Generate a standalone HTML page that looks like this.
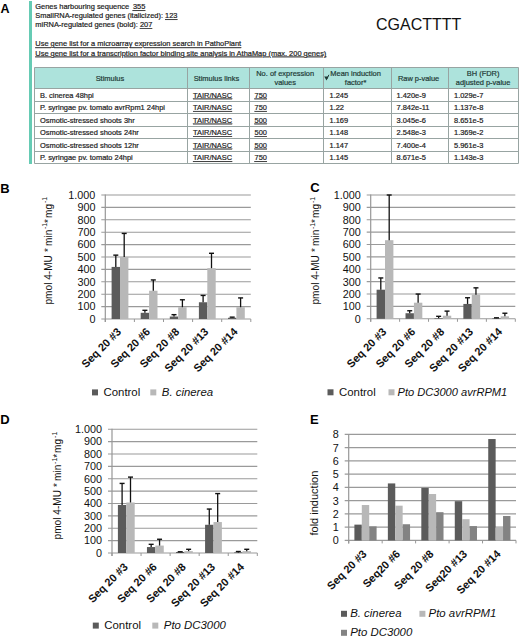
<!DOCTYPE html>
<html><head><meta charset="utf-8"><style>
html,body{margin:0;padding:0;background:#fff;}
body{width:520px;height:639px;overflow:hidden;}
svg{display:block;font-family:"Liberation Sans", sans-serif;}
</style></head><body>
<svg width="520" height="639" viewBox="0 0 520 639">
<text x="0.60" y="13.30" font-size="12.5" text-anchor="start" font-weight="bold" font-style="normal" fill="#000" >A</text>
<rect x="29.00" y="1.00" width="3.00" height="163.00" fill="#66cbb4" />
<text x="35.30" y="9.20" font-size="7.45" text-anchor="start" font-weight="normal" font-style="normal" fill="#222"  stroke="#222" stroke-width="0.2">Genes harbouring sequence <tspan x="132.9" text-decoration="underline">355</tspan></text>
<text x="35.30" y="18.20" font-size="7.45" text-anchor="start" font-weight="normal" font-style="normal" fill="#222"  stroke="#222" stroke-width="0.2">SmallRNA-regulated genes (italicized): <tspan text-decoration="underline">123</tspan></text>
<text x="35.30" y="27.10" font-size="7.45" text-anchor="start" font-weight="normal" font-style="normal" fill="#222"  stroke="#222" stroke-width="0.2">miRNA-regulated genes (bold): <tspan text-decoration="underline">207</tspan></text>
<text x="35.30" y="46.30" font-size="7.45" text-anchor="start" font-weight="normal" font-style="normal" fill="#222" text-decoration="underline" stroke="#222" stroke-width="0.2">Use gene list for a microarray expression search in PathoPlant</text>
<text x="35.30" y="55.50" font-size="7.45" text-anchor="start" font-weight="normal" font-style="normal" fill="#222" text-decoration="underline" stroke="#222" stroke-width="0.2">Use gene list for a transcription factor binding site analysis in AthaMap (max. 200 genes)</text>
<text x="376.00" y="29.60" font-size="16" text-anchor="start" font-weight="normal" font-style="normal" fill="#111" >CGACTTTT</text>
<rect x="34.50" y="67.50" width="484.00" height="21.00" fill="#ade3dc" />
<line x1="34.50" y1="67.50" x2="518.50" y2="67.50" stroke="#98a4a2" stroke-width="1"/>
<line x1="34.50" y1="88.50" x2="518.50" y2="88.50" stroke="#98a4a2" stroke-width="1"/>
<line x1="34.50" y1="101.50" x2="518.50" y2="101.50" stroke="#98a4a2" stroke-width="1"/>
<line x1="34.50" y1="113.50" x2="518.50" y2="113.50" stroke="#98a4a2" stroke-width="1"/>
<line x1="34.50" y1="126.50" x2="518.50" y2="126.50" stroke="#98a4a2" stroke-width="1"/>
<line x1="34.50" y1="138.50" x2="518.50" y2="138.50" stroke="#98a4a2" stroke-width="1"/>
<line x1="34.50" y1="151.50" x2="518.50" y2="151.50" stroke="#98a4a2" stroke-width="1"/>
<line x1="34.50" y1="163.50" x2="518.50" y2="163.50" stroke="#98a4a2" stroke-width="1"/>
<line x1="34.50" y1="67.50" x2="34.50" y2="163.50" stroke="#98a4a2" stroke-width="1"/>
<line x1="187.50" y1="67.50" x2="187.50" y2="163.50" stroke="#98a4a2" stroke-width="1"/>
<line x1="249.50" y1="67.50" x2="249.50" y2="163.50" stroke="#98a4a2" stroke-width="1"/>
<line x1="323.50" y1="67.50" x2="323.50" y2="163.50" stroke="#98a4a2" stroke-width="1"/>
<line x1="391.50" y1="67.50" x2="391.50" y2="163.50" stroke="#98a4a2" stroke-width="1"/>
<line x1="448.50" y1="67.50" x2="448.50" y2="163.50" stroke="#98a4a2" stroke-width="1"/>
<line x1="518.50" y1="67.50" x2="518.50" y2="163.50" stroke="#98a4a2" stroke-width="1"/>
<text x="109.90" y="80.80" font-size="7.45" text-anchor="middle" font-weight="normal" font-style="normal" fill="#1e3a36"  stroke="#1e3a36" stroke-width="0.2">Stimulus</text>
<text x="216.40" y="80.80" font-size="7.45" text-anchor="middle" font-weight="normal" font-style="normal" fill="#1e3a36"  stroke="#1e3a36" stroke-width="0.2">Stimulus links</text>
<text x="285.20" y="76.30" font-size="7.45" text-anchor="middle" font-weight="normal" font-style="normal" fill="#1e3a36"  stroke="#1e3a36" stroke-width="0.2">No. of expression</text>
<text x="285.20" y="85.20" font-size="7.45" text-anchor="middle" font-weight="normal" font-style="normal" fill="#1e3a36"  stroke="#1e3a36" stroke-width="0.2">values</text>
<text x="355.60" y="76.30" font-size="7.45" text-anchor="middle" font-weight="normal" font-style="normal" fill="#1e3a36"  stroke="#1e3a36" stroke-width="0.2">Mean induction</text>
<text x="355.60" y="85.20" font-size="7.45" text-anchor="middle" font-weight="normal" font-style="normal" fill="#1e3a36"  stroke="#1e3a36" stroke-width="0.2">factor*</text>
<path d="M324.2 76.6 L328.6 76.6 L326.5 80.6 Z" fill="#1e3a36"/><path d="M326.8 79 L328.9 74.8" stroke="#1e3a36" stroke-width="1"/>
<text x="418.60" y="80.80" font-size="7.45" text-anchor="middle" font-weight="normal" font-style="normal" fill="#1e3a36"  stroke="#1e3a36" stroke-width="0.2">Raw p-value</text>
<text x="483.10" y="76.30" font-size="7.45" text-anchor="middle" font-weight="normal" font-style="normal" fill="#1e3a36"  stroke="#1e3a36" stroke-width="0.2">BH (FDR)</text>
<text x="483.10" y="85.20" font-size="7.45" text-anchor="middle" font-weight="normal" font-style="normal" fill="#1e3a36"  stroke="#1e3a36" stroke-width="0.2">adjusted p-value</text>
<text x="40.00" y="97.50" font-size="7.45" text-anchor="start" font-weight="normal" font-style="normal" fill="#222"  stroke="#222" stroke-width="0.2">B. cinerea 48hpi</text>
<text x="193.00" y="97.50" font-size="7.45" text-anchor="start" font-weight="normal" font-style="normal" fill="#222" text-decoration="underline" stroke="#222" stroke-width="0.2">TAIR/NASC</text>
<text x="254.50" y="97.50" font-size="7.45" text-anchor="start" font-weight="normal" font-style="normal" fill="#222" text-decoration="underline" stroke="#222" stroke-width="0.2">750</text>
<text x="329.50" y="97.50" font-size="7.45" text-anchor="start" font-weight="normal" font-style="normal" fill="#222"  stroke="#222" stroke-width="0.2">1.245</text>
<text x="396.50" y="97.50" font-size="7.45" text-anchor="start" font-weight="normal" font-style="normal" fill="#222"  stroke="#222" stroke-width="0.2">1.420e-9</text>
<text x="454.00" y="97.50" font-size="7.45" text-anchor="start" font-weight="normal" font-style="normal" fill="#222"  stroke="#222" stroke-width="0.2">1.029e-7</text>
<text x="40.00" y="110.04" font-size="7.45" text-anchor="start" font-weight="normal" font-style="normal" fill="#222"  stroke="#222" stroke-width="0.2">P. syringae pv. tomato avrRpm1 24hpi</text>
<text x="193.00" y="110.04" font-size="7.45" text-anchor="start" font-weight="normal" font-style="normal" fill="#222" text-decoration="underline" stroke="#222" stroke-width="0.2">TAIR/NASC</text>
<text x="254.50" y="110.04" font-size="7.45" text-anchor="start" font-weight="normal" font-style="normal" fill="#222" text-decoration="underline" stroke="#222" stroke-width="0.2">750</text>
<text x="329.50" y="110.04" font-size="7.45" text-anchor="start" font-weight="normal" font-style="normal" fill="#222"  stroke="#222" stroke-width="0.2">1.22</text>
<text x="396.50" y="110.04" font-size="7.45" text-anchor="start" font-weight="normal" font-style="normal" fill="#222"  stroke="#222" stroke-width="0.2">7.842e-11</text>
<text x="454.00" y="110.04" font-size="7.45" text-anchor="start" font-weight="normal" font-style="normal" fill="#222"  stroke="#222" stroke-width="0.2">1.137e-8</text>
<text x="40.00" y="122.58" font-size="7.45" text-anchor="start" font-weight="normal" font-style="normal" fill="#222"  stroke="#222" stroke-width="0.2">Osmotic-stressed shoots 3hr</text>
<text x="193.00" y="122.58" font-size="7.45" text-anchor="start" font-weight="normal" font-style="normal" fill="#222" text-decoration="underline" stroke="#222" stroke-width="0.2">TAIR/NASC</text>
<text x="254.50" y="122.58" font-size="7.45" text-anchor="start" font-weight="normal" font-style="normal" fill="#222" text-decoration="underline" stroke="#222" stroke-width="0.2">500</text>
<text x="329.50" y="122.58" font-size="7.45" text-anchor="start" font-weight="normal" font-style="normal" fill="#222"  stroke="#222" stroke-width="0.2">1.169</text>
<text x="396.50" y="122.58" font-size="7.45" text-anchor="start" font-weight="normal" font-style="normal" fill="#222"  stroke="#222" stroke-width="0.2">3.045e-6</text>
<text x="454.00" y="122.58" font-size="7.45" text-anchor="start" font-weight="normal" font-style="normal" fill="#222"  stroke="#222" stroke-width="0.2">8.651e-5</text>
<text x="40.00" y="135.12" font-size="7.45" text-anchor="start" font-weight="normal" font-style="normal" fill="#222"  stroke="#222" stroke-width="0.2">Osmotic-stressed shoots 24hr</text>
<text x="193.00" y="135.12" font-size="7.45" text-anchor="start" font-weight="normal" font-style="normal" fill="#222" text-decoration="underline" stroke="#222" stroke-width="0.2">TAIR/NASC</text>
<text x="254.50" y="135.12" font-size="7.45" text-anchor="start" font-weight="normal" font-style="normal" fill="#222" text-decoration="underline" stroke="#222" stroke-width="0.2">500</text>
<text x="329.50" y="135.12" font-size="7.45" text-anchor="start" font-weight="normal" font-style="normal" fill="#222"  stroke="#222" stroke-width="0.2">1.148</text>
<text x="396.50" y="135.12" font-size="7.45" text-anchor="start" font-weight="normal" font-style="normal" fill="#222"  stroke="#222" stroke-width="0.2">2.548e-3</text>
<text x="454.00" y="135.12" font-size="7.45" text-anchor="start" font-weight="normal" font-style="normal" fill="#222"  stroke="#222" stroke-width="0.2">1.369e-2</text>
<text x="40.00" y="147.66" font-size="7.45" text-anchor="start" font-weight="normal" font-style="normal" fill="#222"  stroke="#222" stroke-width="0.2">Osmotic-stressed shoots 12hr</text>
<text x="193.00" y="147.66" font-size="7.45" text-anchor="start" font-weight="normal" font-style="normal" fill="#222" text-decoration="underline" stroke="#222" stroke-width="0.2">TAIR/NASC</text>
<text x="254.50" y="147.66" font-size="7.45" text-anchor="start" font-weight="normal" font-style="normal" fill="#222" text-decoration="underline" stroke="#222" stroke-width="0.2">500</text>
<text x="329.50" y="147.66" font-size="7.45" text-anchor="start" font-weight="normal" font-style="normal" fill="#222"  stroke="#222" stroke-width="0.2">1.147</text>
<text x="396.50" y="147.66" font-size="7.45" text-anchor="start" font-weight="normal" font-style="normal" fill="#222"  stroke="#222" stroke-width="0.2">7.400e-4</text>
<text x="454.00" y="147.66" font-size="7.45" text-anchor="start" font-weight="normal" font-style="normal" fill="#222"  stroke="#222" stroke-width="0.2">5.961e-3</text>
<text x="40.00" y="160.20" font-size="7.45" text-anchor="start" font-weight="normal" font-style="normal" fill="#222"  stroke="#222" stroke-width="0.2">P. syringae pv. tomato 24hpi</text>
<text x="193.00" y="160.20" font-size="7.45" text-anchor="start" font-weight="normal" font-style="normal" fill="#222" text-decoration="underline" stroke="#222" stroke-width="0.2">TAIR/NASC</text>
<text x="254.50" y="160.20" font-size="7.45" text-anchor="start" font-weight="normal" font-style="normal" fill="#222" text-decoration="underline" stroke="#222" stroke-width="0.2">750</text>
<text x="329.50" y="160.20" font-size="7.45" text-anchor="start" font-weight="normal" font-style="normal" fill="#222"  stroke="#222" stroke-width="0.2">1.145</text>
<text x="396.50" y="160.20" font-size="7.45" text-anchor="start" font-weight="normal" font-style="normal" fill="#222"  stroke="#222" stroke-width="0.2">8.671e-5</text>
<text x="454.00" y="160.20" font-size="7.45" text-anchor="start" font-weight="normal" font-style="normal" fill="#222"  stroke="#222" stroke-width="0.2">1.143e-3</text>
<text x="0.30" y="192.50" font-size="13" text-anchor="start" font-weight="bold" font-style="normal" fill="#000" >B</text>
<line x1="101.30" y1="319.00" x2="250.80" y2="319.00" stroke="#9a9a9a" stroke-width="1.1"/>
<text x="95.40" y="322.85" font-size="10.8" text-anchor="end" font-weight="normal" font-style="normal" fill="#111" >0</text>
<line x1="101.30" y1="306.60" x2="250.80" y2="306.60" stroke="#9a9a9a" stroke-width="1.1"/>
<text x="95.40" y="310.45" font-size="10.8" text-anchor="end" font-weight="normal" font-style="normal" fill="#111" >100</text>
<line x1="101.30" y1="294.20" x2="250.80" y2="294.20" stroke="#9a9a9a" stroke-width="1.1"/>
<text x="95.40" y="298.05" font-size="10.8" text-anchor="end" font-weight="normal" font-style="normal" fill="#111" >200</text>
<line x1="101.30" y1="281.80" x2="250.80" y2="281.80" stroke="#9a9a9a" stroke-width="1.1"/>
<text x="95.40" y="285.65" font-size="10.8" text-anchor="end" font-weight="normal" font-style="normal" fill="#111" >300</text>
<line x1="101.30" y1="269.40" x2="250.80" y2="269.40" stroke="#9a9a9a" stroke-width="1.1"/>
<text x="95.40" y="273.25" font-size="10.8" text-anchor="end" font-weight="normal" font-style="normal" fill="#111" >400</text>
<line x1="101.30" y1="257.00" x2="250.80" y2="257.00" stroke="#9a9a9a" stroke-width="1.1"/>
<text x="95.40" y="260.85" font-size="10.8" text-anchor="end" font-weight="normal" font-style="normal" fill="#111" >500</text>
<line x1="101.30" y1="244.60" x2="250.80" y2="244.60" stroke="#9a9a9a" stroke-width="1.1"/>
<text x="95.40" y="248.45" font-size="10.8" text-anchor="end" font-weight="normal" font-style="normal" fill="#111" >600</text>
<line x1="101.30" y1="232.20" x2="250.80" y2="232.20" stroke="#9a9a9a" stroke-width="1.1"/>
<text x="95.40" y="236.05" font-size="10.8" text-anchor="end" font-weight="normal" font-style="normal" fill="#111" >700</text>
<line x1="101.30" y1="219.80" x2="250.80" y2="219.80" stroke="#9a9a9a" stroke-width="1.1"/>
<text x="95.40" y="223.65" font-size="10.8" text-anchor="end" font-weight="normal" font-style="normal" fill="#111" >800</text>
<line x1="101.30" y1="207.40" x2="250.80" y2="207.40" stroke="#9a9a9a" stroke-width="1.1"/>
<text x="95.40" y="211.25" font-size="10.8" text-anchor="end" font-weight="normal" font-style="normal" fill="#111" >900</text>
<line x1="101.30" y1="195.00" x2="250.80" y2="195.00" stroke="#9a9a9a" stroke-width="1.1"/>
<text x="95.40" y="198.85" font-size="10.8" text-anchor="end" font-weight="normal" font-style="normal" fill="#111" >1.000</text>
<rect x="111.60" y="266.92" width="8.40" height="52.08" fill="#5b5b5b" />
<rect x="120.00" y="257.00" width="8.40" height="62.00" fill="#b8b8b8" />
<line x1="115.80" y1="266.92" x2="115.80" y2="255.14" stroke="#111" stroke-width="1.3"/>
<line x1="113.30" y1="255.14" x2="118.30" y2="255.14" stroke="#111" stroke-width="1.4"/>
<line x1="124.20" y1="257.00" x2="124.20" y2="233.44" stroke="#111" stroke-width="1.3"/>
<line x1="121.70" y1="233.44" x2="126.70" y2="233.44" stroke="#111" stroke-width="1.4"/>
<rect x="140.70" y="312.80" width="8.40" height="6.20" fill="#5b5b5b" />
<rect x="149.10" y="290.73" width="8.40" height="28.27" fill="#b8b8b8" />
<line x1="144.90" y1="312.80" x2="144.90" y2="310.32" stroke="#111" stroke-width="1.3"/>
<line x1="142.40" y1="310.32" x2="147.40" y2="310.32" stroke="#111" stroke-width="1.4"/>
<line x1="153.30" y1="290.73" x2="153.30" y2="279.94" stroke="#111" stroke-width="1.3"/>
<line x1="150.80" y1="279.94" x2="155.80" y2="279.94" stroke="#111" stroke-width="1.4"/>
<rect x="169.80" y="316.52" width="8.40" height="2.48" fill="#5b5b5b" />
<rect x="178.20" y="307.22" width="8.40" height="11.78" fill="#b8b8b8" />
<line x1="174.00" y1="316.52" x2="174.00" y2="314.66" stroke="#111" stroke-width="1.3"/>
<line x1="171.50" y1="314.66" x2="176.50" y2="314.66" stroke="#111" stroke-width="1.4"/>
<line x1="182.40" y1="307.22" x2="182.40" y2="299.78" stroke="#111" stroke-width="1.3"/>
<line x1="179.90" y1="299.78" x2="184.90" y2="299.78" stroke="#111" stroke-width="1.4"/>
<rect x="198.90" y="302.26" width="8.40" height="16.74" fill="#5b5b5b" />
<rect x="207.30" y="268.16" width="8.40" height="50.84" fill="#b8b8b8" />
<line x1="203.10" y1="302.26" x2="203.10" y2="295.44" stroke="#111" stroke-width="1.3"/>
<line x1="200.60" y1="295.44" x2="205.60" y2="295.44" stroke="#111" stroke-width="1.4"/>
<line x1="211.50" y1="268.16" x2="211.50" y2="253.28" stroke="#111" stroke-width="1.3"/>
<line x1="209.00" y1="253.28" x2="214.00" y2="253.28" stroke="#111" stroke-width="1.4"/>
<rect x="228.00" y="317.76" width="8.40" height="1.24" fill="#5b5b5b" />
<rect x="236.40" y="307.22" width="8.40" height="11.78" fill="#b8b8b8" />
<line x1="232.20" y1="317.76" x2="232.20" y2="317.14" stroke="#111" stroke-width="1.3"/>
<line x1="229.70" y1="317.14" x2="234.70" y2="317.14" stroke="#111" stroke-width="1.4"/>
<line x1="240.60" y1="307.22" x2="240.60" y2="297.92" stroke="#111" stroke-width="1.3"/>
<line x1="238.10" y1="297.92" x2="243.10" y2="297.92" stroke="#111" stroke-width="1.4"/>
<line x1="105.30" y1="194.50" x2="105.30" y2="322.00" stroke="#979797" stroke-width="1.2"/>
<line x1="105.30" y1="319.00" x2="105.30" y2="322.00" stroke="#979797" stroke-width="1"/>
<line x1="134.40" y1="319.00" x2="134.40" y2="322.00" stroke="#979797" stroke-width="1"/>
<line x1="163.50" y1="319.00" x2="163.50" y2="322.00" stroke="#979797" stroke-width="1"/>
<line x1="192.60" y1="319.00" x2="192.60" y2="322.00" stroke="#979797" stroke-width="1"/>
<line x1="221.70" y1="319.00" x2="221.70" y2="322.00" stroke="#979797" stroke-width="1"/>
<line x1="250.80" y1="319.00" x2="250.80" y2="322.00" stroke="#979797" stroke-width="1"/>
<text x="0" y="0" font-size="11" font-weight="bold" text-anchor="end" fill="#111" transform="translate(121.85,332.50) rotate(-45)">Seq 20 #3</text>
<text x="0" y="0" font-size="11" font-weight="bold" text-anchor="end" fill="#111" transform="translate(150.95,332.50) rotate(-45)">Seq 20 #6</text>
<text x="0" y="0" font-size="11" font-weight="bold" text-anchor="end" fill="#111" transform="translate(180.05,332.50) rotate(-45)">Seq 20 #8</text>
<text x="0" y="0" font-size="11" font-weight="bold" text-anchor="end" fill="#111" transform="translate(209.15,332.50) rotate(-45)">Seq 20 #13</text>
<text x="0" y="0" font-size="11" font-weight="bold" text-anchor="end" fill="#111" transform="translate(238.25,332.50) rotate(-45)">Seq 20 #14</text>
<text x="310.20" y="192.40" font-size="13" text-anchor="start" font-weight="bold" font-style="normal" fill="#000" >C</text>
<line x1="366.70" y1="318.80" x2="515.30" y2="318.80" stroke="#9a9a9a" stroke-width="1.1"/>
<text x="360.80" y="322.65" font-size="10.8" text-anchor="end" font-weight="normal" font-style="normal" fill="#111" >0</text>
<line x1="366.70" y1="306.42" x2="515.30" y2="306.42" stroke="#9a9a9a" stroke-width="1.1"/>
<text x="360.80" y="310.27" font-size="10.8" text-anchor="end" font-weight="normal" font-style="normal" fill="#111" >100</text>
<line x1="366.70" y1="294.04" x2="515.30" y2="294.04" stroke="#9a9a9a" stroke-width="1.1"/>
<text x="360.80" y="297.89" font-size="10.8" text-anchor="end" font-weight="normal" font-style="normal" fill="#111" >200</text>
<line x1="366.70" y1="281.66" x2="515.30" y2="281.66" stroke="#9a9a9a" stroke-width="1.1"/>
<text x="360.80" y="285.51" font-size="10.8" text-anchor="end" font-weight="normal" font-style="normal" fill="#111" >300</text>
<line x1="366.70" y1="269.28" x2="515.30" y2="269.28" stroke="#9a9a9a" stroke-width="1.1"/>
<text x="360.80" y="273.13" font-size="10.8" text-anchor="end" font-weight="normal" font-style="normal" fill="#111" >400</text>
<line x1="366.70" y1="256.90" x2="515.30" y2="256.90" stroke="#9a9a9a" stroke-width="1.1"/>
<text x="360.80" y="260.75" font-size="10.8" text-anchor="end" font-weight="normal" font-style="normal" fill="#111" >500</text>
<line x1="366.70" y1="244.52" x2="515.30" y2="244.52" stroke="#9a9a9a" stroke-width="1.1"/>
<text x="360.80" y="248.37" font-size="10.8" text-anchor="end" font-weight="normal" font-style="normal" fill="#111" >600</text>
<line x1="366.70" y1="232.14" x2="515.30" y2="232.14" stroke="#9a9a9a" stroke-width="1.1"/>
<text x="360.80" y="235.99" font-size="10.8" text-anchor="end" font-weight="normal" font-style="normal" fill="#111" >700</text>
<line x1="366.70" y1="219.76" x2="515.30" y2="219.76" stroke="#9a9a9a" stroke-width="1.1"/>
<text x="360.80" y="223.61" font-size="10.8" text-anchor="end" font-weight="normal" font-style="normal" fill="#111" >800</text>
<line x1="366.70" y1="207.38" x2="515.30" y2="207.38" stroke="#9a9a9a" stroke-width="1.1"/>
<text x="360.80" y="211.23" font-size="10.8" text-anchor="end" font-weight="normal" font-style="normal" fill="#111" >900</text>
<line x1="366.70" y1="195.00" x2="515.30" y2="195.00" stroke="#9a9a9a" stroke-width="1.1"/>
<text x="360.80" y="198.85" font-size="10.8" text-anchor="end" font-weight="normal" font-style="normal" fill="#111" >1.000</text>
<rect x="376.60" y="289.71" width="8.40" height="29.09" fill="#5b5b5b" />
<rect x="385.00" y="240.19" width="8.40" height="78.61" fill="#b8b8b8" />
<line x1="380.80" y1="289.71" x2="380.80" y2="277.95" stroke="#111" stroke-width="1.3"/>
<line x1="378.30" y1="277.95" x2="383.30" y2="277.95" stroke="#111" stroke-width="1.4"/>
<line x1="389.20" y1="240.19" x2="389.20" y2="195.00" stroke="#111" stroke-width="1.3"/>
<line x1="386.70" y1="195.00" x2="391.70" y2="195.00" stroke="#111" stroke-width="1.4"/>
<rect x="405.52" y="313.23" width="8.40" height="5.57" fill="#5b5b5b" />
<rect x="413.92" y="302.71" width="8.40" height="16.09" fill="#b8b8b8" />
<line x1="409.72" y1="313.23" x2="409.72" y2="310.75" stroke="#111" stroke-width="1.3"/>
<line x1="407.22" y1="310.75" x2="412.22" y2="310.75" stroke="#111" stroke-width="1.4"/>
<line x1="418.12" y1="302.71" x2="418.12" y2="294.04" stroke="#111" stroke-width="1.3"/>
<line x1="415.62" y1="294.04" x2="420.62" y2="294.04" stroke="#111" stroke-width="1.4"/>
<rect x="434.44" y="318.18" width="8.40" height="0.62" fill="#5b5b5b" />
<rect x="442.84" y="315.70" width="8.40" height="3.10" fill="#b8b8b8" />
<line x1="438.64" y1="318.18" x2="438.64" y2="316.32" stroke="#111" stroke-width="1.3"/>
<line x1="436.14" y1="316.32" x2="441.14" y2="316.32" stroke="#111" stroke-width="1.4"/>
<line x1="447.04" y1="315.70" x2="447.04" y2="311.12" stroke="#111" stroke-width="1.3"/>
<line x1="444.54" y1="311.12" x2="449.54" y2="311.12" stroke="#111" stroke-width="1.4"/>
<rect x="463.36" y="303.94" width="8.40" height="14.86" fill="#5b5b5b" />
<rect x="471.76" y="294.66" width="8.40" height="24.14" fill="#b8b8b8" />
<line x1="467.56" y1="303.94" x2="467.56" y2="297.75" stroke="#111" stroke-width="1.3"/>
<line x1="465.06" y1="297.75" x2="470.06" y2="297.75" stroke="#111" stroke-width="1.4"/>
<line x1="475.96" y1="294.66" x2="475.96" y2="287.85" stroke="#111" stroke-width="1.3"/>
<line x1="473.46" y1="287.85" x2="478.46" y2="287.85" stroke="#111" stroke-width="1.4"/>
<rect x="492.28" y="318.18" width="8.40" height="0.62" fill="#5b5b5b" />
<rect x="500.68" y="316.32" width="8.40" height="2.48" fill="#b8b8b8" />
<line x1="496.48" y1="318.18" x2="496.48" y2="317.81" stroke="#111" stroke-width="1.3"/>
<line x1="493.98" y1="317.81" x2="498.98" y2="317.81" stroke="#111" stroke-width="1.4"/>
<line x1="504.88" y1="316.32" x2="504.88" y2="313.23" stroke="#111" stroke-width="1.3"/>
<line x1="502.38" y1="313.23" x2="507.38" y2="313.23" stroke="#111" stroke-width="1.4"/>
<line x1="370.70" y1="194.50" x2="370.70" y2="321.80" stroke="#979797" stroke-width="1.2"/>
<line x1="370.70" y1="318.80" x2="370.70" y2="321.80" stroke="#979797" stroke-width="1"/>
<line x1="399.62" y1="318.80" x2="399.62" y2="321.80" stroke="#979797" stroke-width="1"/>
<line x1="428.54" y1="318.80" x2="428.54" y2="321.80" stroke="#979797" stroke-width="1"/>
<line x1="457.46" y1="318.80" x2="457.46" y2="321.80" stroke="#979797" stroke-width="1"/>
<line x1="486.38" y1="318.80" x2="486.38" y2="321.80" stroke="#979797" stroke-width="1"/>
<line x1="515.30" y1="318.80" x2="515.30" y2="321.80" stroke="#979797" stroke-width="1"/>
<text x="0" y="0" font-size="11" font-weight="bold" text-anchor="end" fill="#111" transform="translate(387.16,332.50) rotate(-45)">Seq 20 #3</text>
<text x="0" y="0" font-size="11" font-weight="bold" text-anchor="end" fill="#111" transform="translate(416.08,332.50) rotate(-45)">Seq 20 #6</text>
<text x="0" y="0" font-size="11" font-weight="bold" text-anchor="end" fill="#111" transform="translate(445.00,332.50) rotate(-45)">Seq 20 #8</text>
<text x="0" y="0" font-size="11" font-weight="bold" text-anchor="end" fill="#111" transform="translate(473.92,332.50) rotate(-45)">Seq 20 #13</text>
<text x="0" y="0" font-size="11" font-weight="bold" text-anchor="end" fill="#111" transform="translate(502.84,332.50) rotate(-45)">Seq 20 #14</text>
<text x="0.20" y="423.50" font-size="13" text-anchor="start" font-weight="bold" font-style="normal" fill="#000" >D</text>
<line x1="108.00" y1="553.00" x2="257.30" y2="553.00" stroke="#9a9a9a" stroke-width="1.1"/>
<text x="102.10" y="556.85" font-size="10.8" text-anchor="end" font-weight="normal" font-style="normal" fill="#111" >0</text>
<line x1="108.00" y1="540.62" x2="257.30" y2="540.62" stroke="#9a9a9a" stroke-width="1.1"/>
<text x="102.10" y="544.47" font-size="10.8" text-anchor="end" font-weight="normal" font-style="normal" fill="#111" >100</text>
<line x1="108.00" y1="528.24" x2="257.30" y2="528.24" stroke="#9a9a9a" stroke-width="1.1"/>
<text x="102.10" y="532.09" font-size="10.8" text-anchor="end" font-weight="normal" font-style="normal" fill="#111" >200</text>
<line x1="108.00" y1="515.86" x2="257.30" y2="515.86" stroke="#9a9a9a" stroke-width="1.1"/>
<text x="102.10" y="519.71" font-size="10.8" text-anchor="end" font-weight="normal" font-style="normal" fill="#111" >300</text>
<line x1="108.00" y1="503.48" x2="257.30" y2="503.48" stroke="#9a9a9a" stroke-width="1.1"/>
<text x="102.10" y="507.33" font-size="10.8" text-anchor="end" font-weight="normal" font-style="normal" fill="#111" >400</text>
<line x1="108.00" y1="491.10" x2="257.30" y2="491.10" stroke="#9a9a9a" stroke-width="1.1"/>
<text x="102.10" y="494.95" font-size="10.8" text-anchor="end" font-weight="normal" font-style="normal" fill="#111" >500</text>
<line x1="108.00" y1="478.72" x2="257.30" y2="478.72" stroke="#9a9a9a" stroke-width="1.1"/>
<text x="102.10" y="482.57" font-size="10.8" text-anchor="end" font-weight="normal" font-style="normal" fill="#111" >600</text>
<line x1="108.00" y1="466.34" x2="257.30" y2="466.34" stroke="#9a9a9a" stroke-width="1.1"/>
<text x="102.10" y="470.19" font-size="10.8" text-anchor="end" font-weight="normal" font-style="normal" fill="#111" >700</text>
<line x1="108.00" y1="453.96" x2="257.30" y2="453.96" stroke="#9a9a9a" stroke-width="1.1"/>
<text x="102.10" y="457.81" font-size="10.8" text-anchor="end" font-weight="normal" font-style="normal" fill="#111" >800</text>
<line x1="108.00" y1="441.58" x2="257.30" y2="441.58" stroke="#9a9a9a" stroke-width="1.1"/>
<text x="102.10" y="445.43" font-size="10.8" text-anchor="end" font-weight="normal" font-style="normal" fill="#111" >900</text>
<line x1="108.00" y1="429.20" x2="257.30" y2="429.20" stroke="#9a9a9a" stroke-width="1.1"/>
<text x="102.10" y="433.05" font-size="10.8" text-anchor="end" font-weight="normal" font-style="normal" fill="#111" >1.000</text>
<rect x="117.90" y="504.97" width="8.40" height="48.03" fill="#5b5b5b" />
<rect x="126.30" y="502.49" width="8.40" height="50.51" fill="#b8b8b8" />
<line x1="122.10" y1="504.97" x2="122.10" y2="483.42" stroke="#111" stroke-width="1.3"/>
<line x1="119.60" y1="483.42" x2="124.60" y2="483.42" stroke="#111" stroke-width="1.4"/>
<line x1="130.50" y1="502.49" x2="130.50" y2="477.11" stroke="#111" stroke-width="1.3"/>
<line x1="128.00" y1="477.11" x2="133.00" y2="477.11" stroke="#111" stroke-width="1.4"/>
<rect x="146.96" y="547.06" width="8.40" height="5.94" fill="#5b5b5b" />
<rect x="155.36" y="545.57" width="8.40" height="7.43" fill="#b8b8b8" />
<line x1="151.16" y1="547.06" x2="151.16" y2="544.33" stroke="#111" stroke-width="1.3"/>
<line x1="148.66" y1="544.33" x2="153.66" y2="544.33" stroke="#111" stroke-width="1.4"/>
<line x1="159.56" y1="545.57" x2="159.56" y2="539.26" stroke="#111" stroke-width="1.3"/>
<line x1="157.06" y1="539.26" x2="162.06" y2="539.26" stroke="#111" stroke-width="1.4"/>
<rect x="176.02" y="552.01" width="8.40" height="0.99" fill="#5b5b5b" />
<rect x="184.42" y="551.14" width="8.40" height="1.86" fill="#b8b8b8" />
<line x1="180.22" y1="552.01" x2="180.22" y2="551.76" stroke="#111" stroke-width="1.3"/>
<line x1="177.72" y1="551.76" x2="182.72" y2="551.76" stroke="#111" stroke-width="1.4"/>
<line x1="188.62" y1="551.14" x2="188.62" y2="549.29" stroke="#111" stroke-width="1.3"/>
<line x1="186.12" y1="549.29" x2="191.12" y2="549.29" stroke="#111" stroke-width="1.4"/>
<rect x="205.08" y="524.77" width="8.40" height="28.23" fill="#5b5b5b" />
<rect x="213.48" y="522.05" width="8.40" height="30.95" fill="#b8b8b8" />
<line x1="209.28" y1="524.77" x2="209.28" y2="509.05" stroke="#111" stroke-width="1.3"/>
<line x1="206.78" y1="509.05" x2="211.78" y2="509.05" stroke="#111" stroke-width="1.4"/>
<line x1="217.68" y1="522.05" x2="217.68" y2="493.58" stroke="#111" stroke-width="1.3"/>
<line x1="215.18" y1="493.58" x2="220.18" y2="493.58" stroke="#111" stroke-width="1.4"/>
<rect x="234.14" y="552.38" width="8.40" height="0.62" fill="#5b5b5b" />
<rect x="242.54" y="551.14" width="8.40" height="1.86" fill="#b8b8b8" />
<line x1="238.34" y1="552.38" x2="238.34" y2="551.51" stroke="#111" stroke-width="1.3"/>
<line x1="235.84" y1="551.51" x2="240.84" y2="551.51" stroke="#111" stroke-width="1.4"/>
<line x1="246.74" y1="551.14" x2="246.74" y2="549.29" stroke="#111" stroke-width="1.3"/>
<line x1="244.24" y1="549.29" x2="249.24" y2="549.29" stroke="#111" stroke-width="1.4"/>
<line x1="112.00" y1="428.70" x2="112.00" y2="556.00" stroke="#979797" stroke-width="1.2"/>
<line x1="112.00" y1="553.00" x2="112.00" y2="556.00" stroke="#979797" stroke-width="1"/>
<line x1="141.06" y1="553.00" x2="141.06" y2="556.00" stroke="#979797" stroke-width="1"/>
<line x1="170.12" y1="553.00" x2="170.12" y2="556.00" stroke="#979797" stroke-width="1"/>
<line x1="199.18" y1="553.00" x2="199.18" y2="556.00" stroke="#979797" stroke-width="1"/>
<line x1="228.24" y1="553.00" x2="228.24" y2="556.00" stroke="#979797" stroke-width="1"/>
<line x1="257.30" y1="553.00" x2="257.30" y2="556.00" stroke="#979797" stroke-width="1"/>
<text x="0" y="0" font-size="11" font-weight="bold" text-anchor="end" fill="#111" transform="translate(128.53,567.60) rotate(-45)">Seq 20 #3</text>
<text x="0" y="0" font-size="11" font-weight="bold" text-anchor="end" fill="#111" transform="translate(157.59,567.60) rotate(-45)">Seq 20 #6</text>
<text x="0" y="0" font-size="11" font-weight="bold" text-anchor="end" fill="#111" transform="translate(186.65,567.60) rotate(-45)">Seq 20 #8</text>
<text x="0" y="0" font-size="11" font-weight="bold" text-anchor="end" fill="#111" transform="translate(215.71,567.60) rotate(-45)">Seq 20 #13</text>
<text x="0" y="0" font-size="11" font-weight="bold" text-anchor="end" fill="#111" transform="translate(244.77,567.60) rotate(-45)">Seq 20 #14</text>
<text x="310.00" y="423.50" font-size="13" text-anchor="start" font-weight="bold" font-style="normal" fill="#000" >E</text>
<line x1="344.70" y1="540.40" x2="516.00" y2="540.40" stroke="#9a9a9a" stroke-width="1.1"/>
<text x="338.80" y="544.25" font-size="10.8" text-anchor="end" font-weight="normal" font-style="normal" fill="#111" >0</text>
<line x1="344.70" y1="527.15" x2="516.00" y2="527.15" stroke="#9a9a9a" stroke-width="1.1"/>
<text x="338.80" y="531.00" font-size="10.8" text-anchor="end" font-weight="normal" font-style="normal" fill="#111" >1</text>
<line x1="344.70" y1="513.90" x2="516.00" y2="513.90" stroke="#9a9a9a" stroke-width="1.1"/>
<text x="338.80" y="517.75" font-size="10.8" text-anchor="end" font-weight="normal" font-style="normal" fill="#111" >2</text>
<line x1="344.70" y1="500.65" x2="516.00" y2="500.65" stroke="#9a9a9a" stroke-width="1.1"/>
<text x="338.80" y="504.50" font-size="10.8" text-anchor="end" font-weight="normal" font-style="normal" fill="#111" >3</text>
<line x1="344.70" y1="487.40" x2="516.00" y2="487.40" stroke="#9a9a9a" stroke-width="1.1"/>
<text x="338.80" y="491.25" font-size="10.8" text-anchor="end" font-weight="normal" font-style="normal" fill="#111" >4</text>
<line x1="344.70" y1="474.15" x2="516.00" y2="474.15" stroke="#9a9a9a" stroke-width="1.1"/>
<text x="338.80" y="478.00" font-size="10.8" text-anchor="end" font-weight="normal" font-style="normal" fill="#111" >5</text>
<line x1="344.70" y1="460.90" x2="516.00" y2="460.90" stroke="#9a9a9a" stroke-width="1.1"/>
<text x="338.80" y="464.75" font-size="10.8" text-anchor="end" font-weight="normal" font-style="normal" fill="#111" >6</text>
<line x1="344.70" y1="447.65" x2="516.00" y2="447.65" stroke="#9a9a9a" stroke-width="1.1"/>
<text x="338.80" y="451.50" font-size="10.8" text-anchor="end" font-weight="normal" font-style="normal" fill="#111" >7</text>
<line x1="344.70" y1="434.40" x2="516.00" y2="434.40" stroke="#9a9a9a" stroke-width="1.1"/>
<text x="338.80" y="438.25" font-size="10.8" text-anchor="end" font-weight="normal" font-style="normal" fill="#111" >8</text>
<rect x="354.40" y="524.63" width="7.40" height="15.77" fill="#5b5b5b" />
<rect x="361.80" y="505.02" width="7.40" height="35.38" fill="#b8b8b8" />
<rect x="369.20" y="526.36" width="7.40" height="14.04" fill="#838383" />
<rect x="387.86" y="483.42" width="7.40" height="56.97" fill="#5b5b5b" />
<rect x="395.26" y="505.68" width="7.40" height="34.72" fill="#b8b8b8" />
<rect x="402.66" y="524.24" width="7.40" height="16.16" fill="#838383" />
<rect x="421.32" y="487.93" width="7.40" height="52.47" fill="#5b5b5b" />
<rect x="428.72" y="494.02" width="7.40" height="46.38" fill="#b8b8b8" />
<rect x="436.12" y="512.18" width="7.40" height="28.22" fill="#838383" />
<rect x="454.78" y="501.18" width="7.40" height="39.22" fill="#5b5b5b" />
<rect x="462.18" y="519.20" width="7.40" height="21.20" fill="#b8b8b8" />
<rect x="469.58" y="526.09" width="7.40" height="14.31" fill="#838383" />
<rect x="488.24" y="439.04" width="7.40" height="101.36" fill="#5b5b5b" />
<rect x="495.64" y="527.15" width="7.40" height="13.25" fill="#b8b8b8" />
<rect x="503.04" y="516.02" width="7.40" height="24.38" fill="#838383" />
<line x1="348.70" y1="433.90" x2="348.70" y2="543.40" stroke="#979797" stroke-width="1.2"/>
<line x1="348.70" y1="540.40" x2="348.70" y2="543.40" stroke="#979797" stroke-width="1"/>
<line x1="382.16" y1="540.40" x2="382.16" y2="543.40" stroke="#979797" stroke-width="1"/>
<line x1="415.62" y1="540.40" x2="415.62" y2="543.40" stroke="#979797" stroke-width="1"/>
<line x1="449.08" y1="540.40" x2="449.08" y2="543.40" stroke="#979797" stroke-width="1"/>
<line x1="482.54" y1="540.40" x2="482.54" y2="543.40" stroke="#979797" stroke-width="1"/>
<line x1="516.00" y1="540.40" x2="516.00" y2="543.40" stroke="#979797" stroke-width="1"/>
<text x="0" y="0" font-size="11" font-weight="bold" text-anchor="end" fill="#111" transform="translate(367.43,554.60) rotate(-45)">Seq 20 #3</text>
<text x="0" y="0" font-size="11" font-weight="bold" text-anchor="end" fill="#111" transform="translate(400.89,554.60) rotate(-45)">Seq20 #6</text>
<text x="0" y="0" font-size="11" font-weight="bold" text-anchor="end" fill="#111" transform="translate(434.35,554.60) rotate(-45)">Seq 20 #8</text>
<text x="0" y="0" font-size="11" font-weight="bold" text-anchor="end" fill="#111" transform="translate(467.81,554.60) rotate(-45)">Seq20 #13</text>
<text x="0" y="0" font-size="11" font-weight="bold" text-anchor="end" fill="#111" transform="translate(501.27,554.60) rotate(-45)">Seq 20 #14</text>
<text x="0" y="0" font-size="10.1" fill="#111" transform="translate(51.70,304.50) rotate(-90)"><tspan x="0">pmol 4-MU</tspan><tspan x="52.5">*</tspan><tspan x="58.5">min</tspan><tspan x="75.5" font-size="7" dy="-4.3">-1</tspan><tspan x="81.6" dy="4.3">*</tspan><tspan x="86.5">mg</tspan><tspan x="101.5" font-size="7" dy="-4.3">-1</tspan></text>
<text x="0" y="0" font-size="10.1" fill="#111" transform="translate(319.20,304.50) rotate(-90)"><tspan x="0">pmol 4-MU</tspan><tspan x="52.5">*</tspan><tspan x="58.5">min</tspan><tspan x="75.5" font-size="7" dy="-4.3">-1</tspan><tspan x="81.6" dy="4.3">*</tspan><tspan x="86.5">mg</tspan><tspan x="101.5" font-size="7" dy="-4.3">-1</tspan></text>
<text x="0" y="0" font-size="10.1" fill="#111" transform="translate(60.80,539.40) rotate(-90)"><tspan x="0">pmol 4-MU</tspan><tspan x="52.5">*</tspan><tspan x="58.5">min</tspan><tspan x="75.5" font-size="7" dy="-4.3">-1</tspan><tspan x="81.6" dy="4.3">*</tspan><tspan x="86.5">mg</tspan><tspan x="101.5" font-size="7" dy="-4.3">-1</tspan></text>
<text x="0" y="0" font-size="11" fill="#111" transform="translate(317.8,535.5) rotate(-90)">fold induction</text>
<rect x="92.00" y="389.40" width="6.00" height="6.00" fill="#5b5b5b" />
<text x="103.50" y="395.80" font-size="11.4" text-anchor="start" font-weight="normal" font-style="normal" fill="#111" >Control</text>
<rect x="150.30" y="389.40" width="6.00" height="6.00" fill="#b8b8b8" />
<text x="161.80" y="395.80" font-size="11.4" text-anchor="start" font-weight="normal" font-style="italic" fill="#111" >B. cinerea</text>
<rect x="327.50" y="389.30" width="6.00" height="6.00" fill="#5b5b5b" />
<text x="339.00" y="395.70" font-size="11.4" text-anchor="start" font-weight="normal" font-style="normal" fill="#111" >Control</text>
<rect x="388.50" y="389.30" width="6.00" height="6.00" fill="#b8b8b8" />
<text x="397.50" y="395.70" font-size="11.1" text-anchor="start" font-weight="normal" font-style="italic" fill="#111" >Pto DC3000 avrRPM1</text>
<rect x="92.80" y="622.60" width="6.00" height="6.00" fill="#5b5b5b" />
<text x="104.30" y="629.00" font-size="11.4" text-anchor="start" font-weight="normal" font-style="normal" fill="#111" >Control</text>
<rect x="152.30" y="622.60" width="6.00" height="6.00" fill="#b8b8b8" />
<text x="163.80" y="629.00" font-size="11.4" text-anchor="start" font-weight="normal" font-style="italic" fill="#111" >Pto DC3000</text>
<rect x="341.00" y="610.80" width="6.00" height="6.00" fill="#5b5b5b" />
<text x="350.20" y="617.20" font-size="11.4" text-anchor="start" font-weight="normal" font-style="italic" fill="#111" >B. cinerea</text>
<rect x="419.40" y="610.80" width="6.00" height="6.00" fill="#b8b8b8" />
<text x="428.60" y="617.20" font-size="11.4" text-anchor="start" font-weight="normal" font-style="italic" fill="#111" >Pto avrRPM1</text>
<rect x="341.00" y="629.80" width="6.00" height="6.00" fill="#838383" />
<text x="350.20" y="636.20" font-size="11.4" text-anchor="start" font-weight="normal" font-style="italic" fill="#111" >Pto DC3000</text>
</svg>
</body></html>
